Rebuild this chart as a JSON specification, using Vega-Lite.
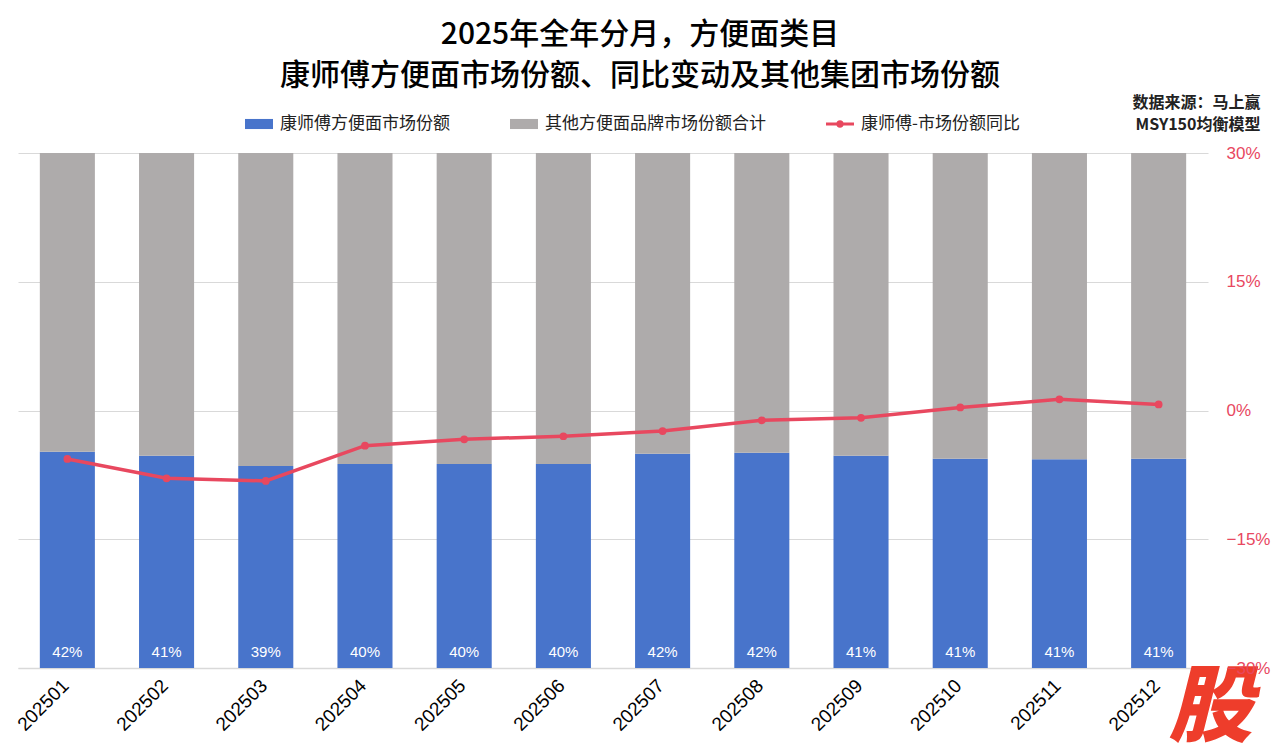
{
  "$schema": "https://vega.github.io/schema/vega-lite/v6.json",
  "width": 1190,
  "height": 515,
  "autosize": "none",
  "padding": {"left": 18, "top": 153, "right": 72, "bottom": 87},
  "background": "white",
  "title": {
    "text": ["2025年全年分月，方便面类目", "康师傅方便面市场份额、同比变动及其他集团市场份额"],
    "font": "Noto Sans CJK SC",
    "fontSize": 30,
    "fontWeight": 500,
    "color": "#000000",
    "lineHeight": 41,
    "anchor": "middle",
    "dx": 27,
    "offset": 3
  },
  "datasets": {
    "share": [
      {"month": "202501", "series": "康师傅方便面市场份额", "share": 0.42},
      {"month": "202501", "series": "其他方便面品牌市场份额合计", "share": 0.58},
      {"month": "202502", "series": "康师傅方便面市场份额", "share": 0.412},
      {"month": "202502", "series": "其他方便面品牌市场份额合计", "share": 0.588},
      {"month": "202503", "series": "康师傅方便面市场份额", "share": 0.392},
      {"month": "202503", "series": "其他方便面品牌市场份额合计", "share": 0.608},
      {"month": "202504", "series": "康师傅方便面市场份额", "share": 0.396},
      {"month": "202504", "series": "其他方便面品牌市场份额合计", "share": 0.604},
      {"month": "202505", "series": "康师傅方便面市场份额", "share": 0.396},
      {"month": "202505", "series": "其他方便面品牌市场份额合计", "share": 0.604},
      {"month": "202506", "series": "康师傅方便面市场份额", "share": 0.396},
      {"month": "202506", "series": "其他方便面品牌市场份额合计", "share": 0.604},
      {"month": "202507", "series": "康师傅方便面市场份额", "share": 0.416},
      {"month": "202507", "series": "其他方便面品牌市场份额合计", "share": 0.584},
      {"month": "202508", "series": "康师傅方便面市场份额", "share": 0.418},
      {"month": "202508", "series": "其他方便面品牌市场份额合计", "share": 0.582},
      {"month": "202509", "series": "康师傅方便面市场份额", "share": 0.412},
      {"month": "202509", "series": "其他方便面品牌市场份额合计", "share": 0.588},
      {"month": "202510", "series": "康师傅方便面市场份额", "share": 0.4065},
      {"month": "202510", "series": "其他方便面品牌市场份额合计", "share": 0.5935},
      {"month": "202511", "series": "康师傅方便面市场份额", "share": 0.4055},
      {"month": "202511", "series": "其他方便面品牌市场份额合计", "share": 0.5945},
      {"month": "202512", "series": "康师傅方便面市场份额", "share": 0.4065},
      {"month": "202512", "series": "其他方便面品牌市场份额合计", "share": 0.5935}
    ],
    "yoy": [
      {"month": "202501", "yoy": -0.0565},
      {"month": "202502", "yoy": -0.079},
      {"month": "202503", "yoy": -0.082},
      {"month": "202504", "yoy": -0.041},
      {"month": "202505", "yoy": -0.0335},
      {"month": "202506", "yoy": -0.03},
      {"month": "202507", "yoy": -0.024},
      {"month": "202508", "yoy": -0.0115},
      {"month": "202509", "yoy": -0.0085},
      {"month": "202510", "yoy": 0.0035},
      {"month": "202511", "yoy": 0.013},
      {"month": "202512", "yoy": 0.007}
    ]
  },
  "layer": [
    {
      "data": {"name": "share"},
      "layer": [
        {
          "mark": {"type": "bar"},
          "encoding": {
            "x": {
              "field": "month",
              "type": "nominal",
              "scale": {"paddingInner": 0.445, "paddingOuter": 0.22},
              "axis": {
                "labelAngle": -45,
                "labelFont": "Liberation Sans",
                "labelFontSize": 19,
                "labelColor": "#000000",
                "labelPadding": 8,
                "labelOffset": -8,
                "ticks": false,
                "domainColor": "#d9d9d9",
                "domainWidth": 1.5,
                "title": "股",
                "titleFont": "Noto Sans CJK SC",
                "titleFontSize": 84,
                "titleFontWeight": 900,
                "titleFontStyle": "italic",
                "titleColor": "#EE3D2B",
                "titleAnchor": "start",
                "titleAlign": "center",
                "titleBaseline": "alphabetic",
                "titleX": 1192,
                "titleY": 66
              }
            },
            "y": {
              "field": "share",
              "type": "quantitative",
              "stack": "zero",
              "scale": {"domain": [0, 1]},
              "axis": null
            },
            "color": {
              "field": "series",
              "type": "nominal",
              "scale": {
                "domain": ["康师傅方便面市场份额", "其他方便面品牌市场份额合计", "康师傅-市场份额同比"],
                "range": ["#4874CB", "#AEABAB", "#E8485F"]
              },
              "legend": {
                "orient": "none",
                "legendX": 227,
                "legendY": -43,
                "direction": "horizontal",
                "columns": 3,
                "title": null,
                "labelFont": "Noto Sans CJK SC",
                "labelFontSize": 17,
                "labelColor": "#222222",
                "labelLimit": 400,
                "labelOffset": 7,
                "columnPadding": 60,
                "symbolType": "M-1,-0.36H1V0.36H-1Z",
                "symbolSize": 784,
                "symbolStrokeWidth": 0,
                "encode": {
                  "symbols": {
                    "update": {
                      "shape": {"signal": "datum.value === '康师傅-市场份额同比' ? 'M-1,-0.11H1V0.11H-1Z M0.27,0A0.27,0.27,0,1,1,-0.27,0A0.27,0.27,0,1,1,0.27,0Z' : 'M-1,-0.36H1V0.36H-1Z'"},
                      "fill": {"scale": "color", "field": "value"},
                      "opacity": {"value": 1}
                    }
                  }
                }
              }
            },
            "order": {"field": "series", "sort": "descending"}
          }
        },
        {
          "transform": [{"filter": "datum.series === '康师傅方便面市场份额'"}],
          "mark": {"type": "text", "color": "white", "fontSize": 15, "font": "Liberation Sans", "baseline": "bottom", "dy": -8},
          "encoding": {
            "x": {"field": "month", "type": "nominal"},
            "y": {"datum": 0, "type": "quantitative"},
            "text": {"field": "share", "type": "quantitative", "format": ".0%"}
          }
        }
      ]
    },
    {
      "data": {"name": "yoy"},
      "mark": {"type": "line", "strokeWidth": 3.5, "point": {"filled": true, "size": 60}},
      "encoding": {
        "x": {"field": "month", "type": "nominal"},
        "y": {
          "field": "yoy",
          "type": "quantitative",
          "scale": {"domain": [-0.3, 0.3]},
          "axis": {
            "orient": "right",
            "values": [-0.3, -0.15, 0, 0.15, 0.3],
            "format": ".0%",
            "grid": true,
            "gridColor": "#d9d9d9",
            "gridWidth": 1.2,
            "domain": false,
            "ticks": false,
            "labelFlush": false,
            "labelFont": "Liberation Sans",
            "labelFontSize": 17,
            "labelColor": "#E8485F",
            "labelPadding": 18,
            "title": ["数据来源：马上赢", "MSY150均衡模型"],
            "titleFont": "Noto Sans CJK SC",
            "titleFontSize": 16,
            "titleFontWeight": "bold",
            "titleColor": "#222222",
            "titleAngle": 0,
            "titleAlign": "right",
            "titleBaseline": "alphabetic",
            "titleLineHeight": 22,
            "titleX": 52,
            "titleY": -46
          }
        },
        "color": {"datum": "康师傅-市场份额同比"}
      }
    }
  ],
  "resolve": {"scale": {"y": "independent"}},
  "config": {
    "view": {"stroke": null}
  }
}
